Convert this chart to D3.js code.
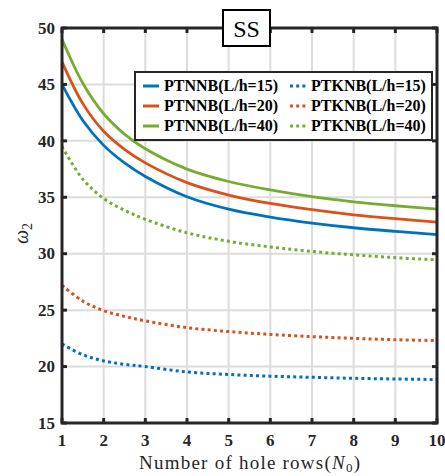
<!DOCTYPE html>
<html>
<head>
<meta charset="utf-8">
<script src="https://cdn.jsdelivr.net/npm/d3@7"></script>
<style>
  html, body { margin: 0; padding: 0; background: #fff; }
  svg { display: block; }
</style>
</head>
<body>
<div id="chart"></div>
<script>
// number of hole rows (sample points)
const rows = [1, 1.5, 2, 2.5, 3, 4, 5, 6, 7, 8, 9, 10];

// PTNNB (solid)
const ptnnb15 = [45.0, 41.8, 39.6, 38.05, 36.85, 35.05, 33.95, 33.25, 32.72, 32.3, 31.98, 31.7];
const ptnnb20 = [47.0, 43.3, 40.85, 39.25, 38.05, 36.3, 35.2, 34.45, 33.9, 33.45, 33.1, 32.8];
const ptnnb40 = [49.0, 45.1, 42.4, 40.6, 39.3, 37.5, 36.4, 35.65, 35.05, 34.6, 34.25, 33.95];

// PTKNB (dotted)
const ptknb15 = [22.0, 21.05, 20.5, 20.2, 20.0, 19.52, 19.3, 19.15, 19.05, 18.96, 18.9, 18.85];
const ptknb20 = [27.2, 25.8, 24.95, 24.45, 24.05, 23.45, 23.1, 22.85, 22.65, 22.5, 22.38, 22.3];
const ptknb40 = [39.5, 36.6, 34.9, 33.85, 33.05, 31.85, 31.1, 30.6, 30.2, 29.9, 29.65, 29.45];

const xTicks = [1, 2, 3, 4, 5, 6, 7, 8, 9, 10];
const yTicks = [15, 20, 25, 30, 35, 40, 45, 50];

const series = [
  { name: 'PTNNB(L/h=15)', values: ptnnb15, color: '#0072BD', dotted: false },
  { name: 'PTNNB(L/h=20)', values: ptnnb20, color: '#D95319', dotted: false },
  { name: 'PTNNB(L/h=40)', values: ptnnb40, color: '#77AC30', dotted: false },
  { name: 'PTKNB(L/h=15)', values: ptknb15, color: '#0072BD', dotted: true },
  { name: 'PTKNB(L/h=20)', values: ptknb20, color: '#D95319', dotted: true },
  { name: 'PTKNB(L/h=40)', values: ptknb40, color: '#77AC30', dotted: true }
];

const width = 445, height = 476;
const margin = { left: 62, top: 28, right: 8, bottom: 53 };
const axisColor = '#262626';
const serif = '"Liberation Serif", "Times New Roman", serif';

const svg = d3.select('#chart').append('svg')
  .attr('width', width)
  .attr('height', height);

const x = d3.scaleLinear().domain([1, 10]).range([margin.left, width - margin.right]);
const y = d3.scaleLinear().domain([15, 50]).range([height - margin.bottom, margin.top]);

const x0 = x.range()[0], x1 = x.range()[1];
const y0 = y.range()[0], y1 = y.range()[1];

// grid
const grid = svg.append('g').attr('stroke', '#dcdcdc').attr('stroke-width', 2);
xTicks.slice(1, -1).forEach(t => {
  grid.append('line').attr('x1', x(t)).attr('x2', x(t)).attr('y1', y0).attr('y2', y1);
});
yTicks.slice(1, -1).forEach(t => {
  grid.append('line').attr('x1', x0).attr('x2', x1).attr('y1', y(t)).attr('y2', y(t));
});

// curves
const line = d3.line()
  .x((d, i) => x(rows[i]))
  .y(d => y(d))
  .curve(d3.curveCatmullRom.alpha(0.5));

series.forEach(s => {
  svg.append('path')
    .datum(s.values)
    .attr('d', line)
    .attr('fill', 'none')
    .attr('stroke', s.color)
    .attr('stroke-width', s.dotted ? 3 : 2.8)
    .attr('stroke-dasharray', s.dotted ? '3,3.2' : null);
});

// axes box with inward ticks
const box = svg.append('g').attr('stroke', axisColor).attr('stroke-width', 3).attr('fill', 'none');
box.append('rect').attr('x', x0).attr('y', y1).attr('width', x1 - x0).attr('height', y0 - y1);
const tickLen = 5;
xTicks.forEach(t => {
  box.append('line').attr('x1', x(t)).attr('x2', x(t)).attr('y1', y0).attr('y2', y0 - tickLen);
  box.append('line').attr('x1', x(t)).attr('x2', x(t)).attr('y1', y1).attr('y2', y1 + tickLen);
});
yTicks.forEach(t => {
  box.append('line').attr('x1', x0).attr('x2', x0 + tickLen).attr('y1', y(t)).attr('y2', y(t));
  box.append('line').attr('x1', x1).attr('x2', x1 - tickLen).attr('y1', y(t)).attr('y2', y(t));
});

// tick labels
svg.append('g').selectAll('text').data(xTicks).join('text')
  .attr('x', d => x(d))
  .attr('y', y0 + 23)
  .attr('text-anchor', 'middle')
  .attr('font-family', serif)
  .attr('font-weight', 'bold')
  .attr('font-size', 17)
  .attr('fill', axisColor)
  .text(d => d);

svg.append('g').selectAll('text').data(yTicks).join('text')
  .attr('x', x0 - 7)
  .attr('y', d => y(d))
  .attr('dy', '0.34em')
  .attr('text-anchor', 'end')
  .attr('font-family', serif)
  .attr('font-weight', 'bold')
  .attr('font-size', 17)
  .attr('fill', axisColor)
  .text(d => d);

// axis titles
const xTitle = svg.append('text')
  .attr('x', 249.5)
  .attr('y', 469)
  .attr('text-anchor', 'middle')
  .attr('font-family', serif)
  .attr('font-size', 19)
  .attr('textLength', 221)
  .attr('lengthAdjust', 'spacing')
  .attr('fill', axisColor);
xTitle.append('tspan').text('Number of hole rows(');
xTitle.append('tspan').attr('font-style', 'italic').text('N');
xTitle.append('tspan').attr('font-size', 13).attr('dy', 3).text('0');
xTitle.append('tspan').attr('dy', -3).text(')');

const yTitle = svg.append('text')
  .attr('transform', `translate(28, ${(y0 + y1) / 2 + 8}) rotate(-90)`)
  .attr('text-anchor', 'middle')
  .attr('font-family', serif)
  .attr('font-size', 20)
  .attr('fill', axisColor);
yTitle.append('tspan').attr('font-style', 'italic').text('ω');
yTitle.append('tspan').attr('font-size', 14).attr('dy', 4).text('2');

// title box
const title = svg.append('g');
title.append('rect')
  .attr('x', 223).attr('y', 10).attr('width', 47).attr('height', 36)
  .attr('fill', '#fff').attr('stroke', '#000').attr('stroke-width', 2);
title.append('text')
  .attr('x', 246.5).attr('y', 37)
  .attr('text-anchor', 'middle')
  .attr('font-family', serif)
  .attr('font-size', 24)
  .attr('fill', '#000')
  .text('SS');

// legend
const legend = svg.append('g');
legend.append('rect')
  .attr('x', 135).attr('y', 72).attr('width', 297).attr('height', 68)
  .attr('fill', '#fff').attr('stroke', axisColor).attr('stroke-width', 2);

const colX = [143, 290];
series.forEach((s, i) => {
  const col = s.dotted ? 1 : 0;
  const row = i % 3;
  const ly = 86 + row * 20;
  const lx = colX[col];
  legend.append('line')
    .attr('x1', lx).attr('x2', lx + 16)
    .attr('y1', ly).attr('y2', ly)
    .attr('stroke', s.color)
    .attr('stroke-width', 3)
    .attr('stroke-dasharray', s.dotted ? '3,3.2' : null);
  legend.append('text')
    .attr('x', lx + 21)
    .attr('y', ly)
    .attr('dy', '0.34em')
    .attr('font-family', serif)
    .attr('font-weight', 'bold')
    .attr('font-size', 16)
    .attr('fill', '#000')
    .text(s.name);
});
</script>
</body>
</html>
